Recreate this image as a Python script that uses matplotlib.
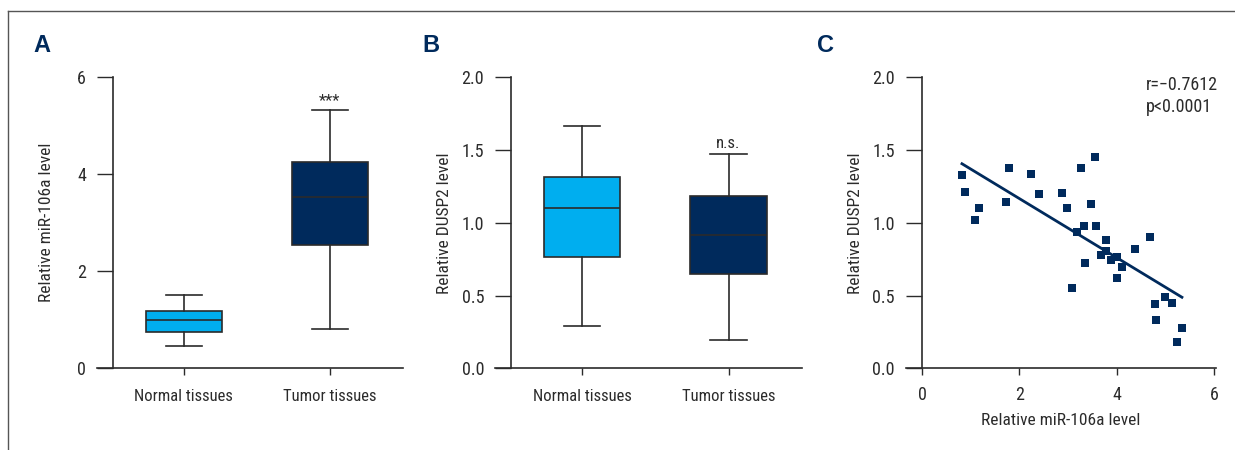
import numpy as np
import matplotlib
matplotlib.use("Agg")
from matplotlib import pyplot as plt
from matplotlib.lines import Line2D

plt.rcParams['font.family'] = ['Roboto Condensed', 'Open Sans Condensed', 'DejaVu Sans']
plt.rcParams['font.stretch'] = 'condensed'

LIGHT = '#00aeef'
NAVY = '#002a5c'
INK = '#2b2b2b'

groups = ['Normal tissues', 'Tumor tissues']

# miR-106a box stats (whislo, q1, med, q3, whishi)
mir_normal = [0.45, 0.755, 1.00, 1.18, 1.52]
mir_tumor = [0.80, 2.55, 3.54, 4.25, 5.33]

# DUSP2 box stats
dusp_normal = [0.29, 0.767, 1.104, 1.317, 1.667]
dusp_tumor = [0.195, 0.646, 0.916, 1.186, 1.473]

sig_labels = ['***', 'n.s.']

# paired tumor samples: miR-106a vs DUSP2
mir_vals = [0.82, 0.88, 1.17, 1.09, 1.79, 1.73, 2.24, 2.40, 2.88, 2.98, 3.27,
            3.55, 3.47, 3.33, 3.58, 3.18, 3.78, 3.77, 3.68, 3.88, 4.01, 4.11,
            3.35, 4.01, 4.38, 4.68, 3.08, 4.79, 4.99, 5.14, 4.81, 5.34, 5.24]
dusp_vals = [1.326, 1.21, 1.10, 1.017, 1.375, 1.14, 1.333, 1.196, 1.203, 1.10,
             1.375, 1.45, 1.127, 0.976, 0.976, 0.935, 0.88, 0.808, 0.777, 0.744,
             0.763, 0.694, 0.722, 0.62, 0.818, 0.90, 0.55, 0.44, 0.488, 0.447,
             0.33, 0.275, 0.179]
r_text = 'r=\u22120.7612'
p_text = 'p<0.0001'

W, H = 1235, 450
fig = plt.figure(figsize=(W / 100, H / 100), dpi=100)


def px_axes(x0, x1, y_top, y_bot):
    return fig.add_axes([x0 / W, 1 - y_bot / H, (x1 - x0) / W, (y_bot - y_top) / H])


def style(ax):
    for s in ['top', 'right']:
        ax.spines[s].set_visible(False)
    for s in ['left', 'bottom']:
        ax.spines[s].set_linewidth(1.2)
        ax.spines[s].set_color(INK)
    ax.tick_params(axis='y', length=11.5, width=1.0, pad=8, labelsize=13, colors=INK)
    ax.tick_params(axis='x', length=5, width=1.0, pad=10, labelsize=12, colors=INK)
    ax.yaxis.set_label_coords(-0.14, 0.5)


def stats(name, v):
    return dict(label=name, whislo=v[0], q1=v[1], med=v[2], q3=v[3], whishi=v[4], fliers=[])


def box_panel(ax, normal, tumor, ymax, yticks, ylabel, sig, sig_off):
    b = ax.bxp([stats(groups[0], normal), stats(groups[1], tumor)], positions=[0, 1],
               widths=0.52, capwidths=0.25, patch_artist=True, showfliers=False,
               boxprops=dict(linewidth=1.2, edgecolor=INK),
               medianprops=dict(color=INK, linewidth=1.2),
               whiskerprops=dict(color=INK, linewidth=1.2),
               capprops=dict(color=INK, linewidth=1.2))
    b['boxes'][0].set_facecolor(LIGHT)
    b['boxes'][1].set_facecolor(NAVY)
    ax.set_xlim(-0.595, 1.5)
    ax.set_ylim(0, ymax)
    ax.spines['left'].set_position(('data', -0.485))
    ax.set_yticks(yticks)
    ax.set_ylabel(ylabel, fontsize=12.5, color=INK)
    style(ax)
    ax.annotate(sig, xy=(1, tumor[4]), xytext=(0, sig_off), textcoords='offset points',
                ha='center', va='bottom', fontsize=12, color=INK)


axA = px_axes(97, 403, 77.3, 368.3)
box_panel(axA, mir_normal, mir_tumor, 6, [0, 2, 4, 6], 'Relative miR-106a level',
          sig_labels[0], 1)

axB = px_axes(495, 801.7, 77.3, 368.3)
box_panel(axB, dusp_normal, dusp_tumor, 2.0, [0.0, 0.5, 1.0, 1.5, 2.0],
          'Relative DUSP2 level', sig_labels[1], 2)
axB.set_yticklabels(['0.0', '0.5', '1.0', '1.5', '2.0'])

axC = px_axes(906, 1216, 77.3, 368.3)
axC.scatter(mir_vals, dusp_vals, marker='s', s=36, color=NAVY, linewidths=0, zorder=3)
slope, intercept = np.polyfit(mir_vals, dusp_vals, 1)
xs = np.array([min(mir_vals), max(mir_vals)])
axC.plot(xs, slope * xs + intercept, color=NAVY, linewidth=2)
axC.set_xlim(-0.33, 6.04)
axC.set_ylim(0, 2.0)
axC.spines['left'].set_position(('data', 0))
axC.set_xticks([0, 2, 4, 6])
axC.set_yticks([0.0, 0.5, 1.0, 1.5, 2.0])
axC.set_yticklabels(['0.0', '0.5', '1.0', '1.5', '2.0'])
axC.set_ylabel('Relative DUSP2 level', fontsize=12.5, color=INK)
axC.set_xlabel('Relative miR-106a level', fontsize=12.5, color=INK, labelpad=6)
style(axC)
axC.tick_params(axis='x', labelsize=13, pad=8)
axC.text(4.6, 1.947, r_text, fontsize=13, color=INK, va='center', ha='left')
axC.text(4.6, 1.794, p_text, fontsize=13, color=INK, va='center', ha='left')

# panel letters
for x, lab in [(33, 'A'), (422, 'B'), (817, 'C')]:
    fig.text(x / W, 1 - 45 / H, lab, fontsize=17, fontweight='bold', color=NAVY,
             family=['Liberation Sans', 'DejaVu Sans'], va='center', ha='left')

# open frame along the top and left edge
fig.add_artist(Line2D([8 / W, 8 / W], [0, 1 - 11 / H], transform=fig.transFigure,
                      color='#555555', linewidth=1))
fig.add_artist(Line2D([8 / W, 1], [1 - 11 / H, 1 - 11 / H], transform=fig.transFigure,
                      color='#555555', linewidth=1))

fig.savefig('out.png', dpi=100)
